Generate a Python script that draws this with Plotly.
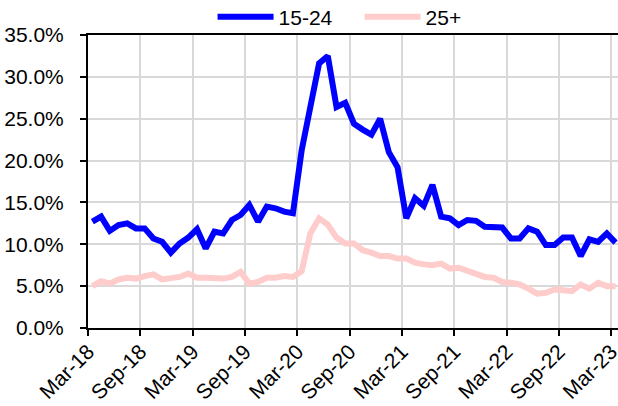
import plotly.graph_objects as go
import pandas as pd

months = pd.date_range("2018-03-01", "2023-03-01", freq="MS").strftime("%b-%y").tolist()

youth_15_24 = [12.7, 13.3, 11.6, 12.3, 12.5, 11.9, 11.9, 10.7, 10.3, 9.0,
               10.1, 10.8, 11.8, 9.5, 11.5, 11.3, 12.9, 13.5, 14.7, 12.7,
               14.5, 14.3, 13.9, 13.7, 21.2, 26.7, 31.6, 32.5, 26.4, 26.9,
               24.4, 23.7, 23.1, 25.0, 21.0, 19.2, 13.1, 15.5, 14.6, 17.1,
               13.3, 13.1, 12.3, 12.9, 12.8, 12.1, 12.0, 12.0, 10.7, 10.7,
               11.9, 11.5, 9.9, 9.9, 10.8, 10.8, 8.6, 10.6, 10.3, 11.3, 10.2]

adult_25_plus = [5.0, 5.6, 5.3, 5.8, 6.0, 5.9, 6.2, 6.4, 5.8, 5.9,
                 6.1, 6.5, 6.0, 6.0, 6.0, 5.9, 6.1, 6.7, 5.3, 5.5,
                 6.0, 6.0, 6.2, 6.1, 6.8, 11.3, 13.1, 12.35, 10.8, 10.1,
                 10.1, 9.3, 9.0, 8.6, 8.6, 8.3, 8.3, 7.8, 7.6, 7.5,
                 7.7, 7.1, 7.2, 6.8, 6.5, 6.1, 6.0, 5.5, 5.4, 5.2,
                 4.7, 4.1, 4.2, 4.6, 4.5, 4.4, 5.2, 4.7, 5.4, 5.0, 5.0]

tick_labels = ["Mar-18", "Sep-18", "Mar-19", "Sep-19", "Mar-20", "Sep-20",
               "Mar-21", "Sep-21", "Mar-22", "Sep-22", "Mar-23"]

x = list(range(len(months)))
tick_pos = [months.index(t) for t in tick_labels]
boundaries = [p - 0.5 for p in tick_pos]

FONT = "Liberation Sans, Arial, sans-serif"

fig = go.Figure()
fig.add_trace(go.Scatter(x=x, y=youth_15_24, mode="lines", name="15-24",
                         line=dict(color="#0000FF", width=6)))
fig.add_trace(go.Scatter(x=x, y=adult_25_plus, mode="lines", name="25+",
                         line=dict(color="#FFCCCC", width=6)))

fig.update_layout(
    width=618, height=406,
    margin=dict(l=88, r=0, t=35, b=78, autoexpand=False),
    paper_bgcolor="white", plot_bgcolor="white",
    font=dict(family=FONT, size=21, color="black"),
    showlegend=True,
    legend=dict(orientation="h", x=0.235, xanchor="left", y=1 + 18 / 293, yanchor="middle",
                font=dict(size=21), itemwidth=56, entrywidth=76,
                bgcolor="rgba(0,0,0,0)"),
)

fig.update_xaxes(
    range=[-0.5, -0.5 + 530 / 8.72],
    automargin=False,
    tickmode="array", tickvals=boundaries, ticktext=tick_labels,
    tickangle=-45, ticks="outside", ticklen=6, tickwidth=2, tickcolor="black",
    showgrid=True, gridcolor="#D9D9D9", gridwidth=2,
    ticklabelstandoff=-5, ticklabeloverflow="allow",
    showline=True, linecolor="black", linewidth=2, mirror=True,
    zeroline=False,
)
fig.update_yaxes(
    range=[0, 35], tickmode="linear", tick0=0, dtick=5,
    automargin=False,
    tickformat=".1f", ticksuffix="%",
    ticks="outside", ticklen=6, tickwidth=2, tickcolor="black",
    ticklabelstandoff=12,
    showgrid=True, gridcolor="#D9D9D9", gridwidth=2,
    showline=True, linecolor="black", linewidth=2,
    zeroline=False,
)

fig.write_html("out.html", config={"displayModeBar": False},
               post_script="document.body.style.margin='0';document.body.style.overflow='hidden';")
